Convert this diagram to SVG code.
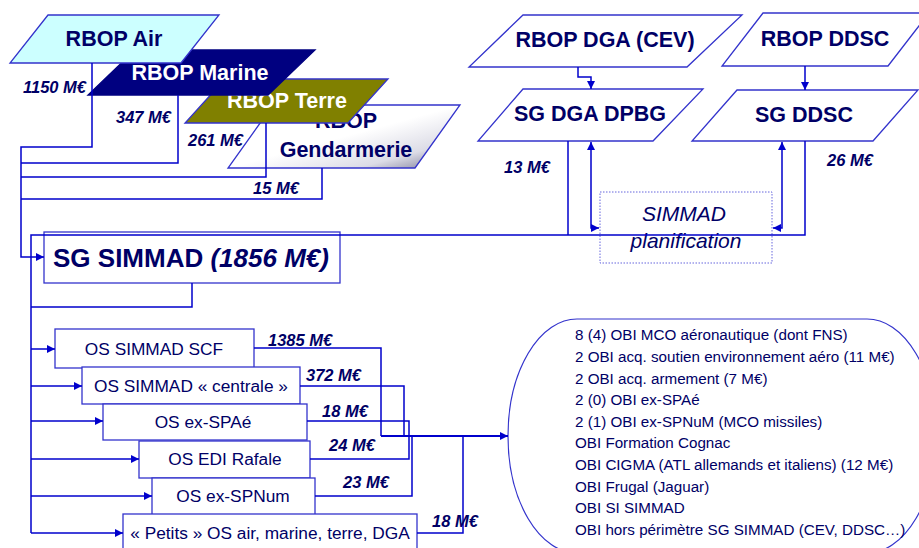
<svg xmlns="http://www.w3.org/2000/svg" width="919" height="548" viewBox="0 0 919 548">
<defs>
<linearGradient id="gGend" x1="0" y1="0" x2="1" y2="1">
<stop offset="0" stop-color="#ffffff"/>
<stop offset="0.5" stop-color="#ffffff"/>
<stop offset="0.78" stop-color="#dcdce6"/>
<stop offset="1" stop-color="#6e6e8c"/>
</linearGradient>
<marker id="ah" viewBox="0 0 10 10" refX="10" refY="5" markerWidth="8" markerHeight="8" markerUnits="userSpaceOnUse" orient="auto-start-reverse">
<path d="M0,0 L10,5 L0,10 z" fill="#0000cc"/>
</marker>
</defs>
<style>
.box{stroke:#3333cc;stroke-width:1.3;fill:#ffffff}
.t{font-family:"Liberation Sans",Arial,sans-serif;fill:#000066}
.tb{font-family:"Liberation Sans",Arial,sans-serif;font-weight:bold;font-size:21.5px;fill:#000066;text-anchor:middle}
.tw{fill:#ffffff}
.os{font-family:"Liberation Sans",Arial,sans-serif;font-size:17.3px;fill:#000066;text-anchor:middle}
.lab{font-family:"Liberation Sans",Arial,sans-serif;font-weight:bold;font-style:italic;font-size:16.5px;fill:#000066}
.obi{font-family:"Liberation Sans",Arial,sans-serif;font-size:15.2px;fill:#000066}
.c{fill:none;stroke:#0000cc;stroke-width:1.5}
.ca{fill:none;stroke:#0000cc;stroke-width:1.5;marker-end:url(#ah)}
.cb{fill:none;stroke:#0000cc;stroke-width:1.5;marker-start:url(#ah);marker-end:url(#ah)}
</style>
<rect width="919" height="548" fill="#ffffff"/>

<g id="rbop-gendarmerie">
<polygon class="box" points="273,105 460,105 415,168 228,168" style="fill:url(#gGend)"/>
<text class="tb" x="346" y="128">RBOP</text>
<text class="tb" x="346" y="157">Gendarmerie</text>
</g>
<g id="rbop-terre">
<polygon class="box" points="225,79 388,79 348,123 185,123" style="fill:#808000"/>
<text class="tb tw" x="287" y="108">RBOP Terre</text>
</g>
<g id="rbop-marine">
<polygon class="box" points="135,50 315,50 268,95 88,95" style="fill:#000080;stroke:#000080"/>
<text class="tb tw" x="200" y="80">RBOP Marine</text>
</g>
<g id="rbop-air">
<polygon class="box" points="48,15 219,15 181,63 10,63" style="fill:#ccffff"/>
<text class="tb" x="114" y="46">RBOP Air</text>
</g>

<g id="rbop-dga">
<polygon class="box" points="523,15 742,15 687,67 469,67"/>
<text class="tb" x="605" y="47">RBOP DGA (CEV)</text>
</g>
<g id="rbop-ddsc">
<polygon class="box" points="763,13 929,13 888,66 722,66"/>
<text class="tb" x="825" y="46">RBOP DDSC</text>
</g>
<g id="sg-dga-dpbg">
<polygon class="box" points="523,89 703,89 653,141 478,141"/>
<text class="tb" x="590" y="121">SG DGA DPBG</text>
</g>
<g id="sg-ddsc">
<polygon class="box" points="737,90 918,90 873,141 692,141"/>
<text class="tb" x="804" y="122">SG DDSC</text>
</g>

<g id="simmad-planification">
<rect x="600" y="192" width="172" height="71" fill="none" stroke="#6666dd" stroke-width="1" stroke-dasharray="1.5,1.5"/>
<text class="t" x="684" y="221" font-size="21px" font-style="italic" text-anchor="middle">SIMMAD</text>
<text class="t" x="686" y="248" font-size="21px" font-style="italic" text-anchor="middle">planification</text>
</g>

<g id="sg-simmad">
<rect class="box" x="44" y="232" width="296" height="51"/>
<text class="t" x="53" y="267" font-size="26px" font-weight="bold">SG SIMMAD <tspan font-style="italic">(1856 M€)</tspan></text>
</g>

<g id="os-scf">
<rect class="box" x="55" y="329" width="199" height="39"/>
<text class="os" x="154" y="355">OS SIMMAD SCF</text>
</g>
<g id="os-centrale">
<rect class="box" x="82" y="367" width="218" height="37"/>
<text class="os" x="191" y="392">OS SIMMAD « centrale »</text>
</g>
<g id="os-spae">
<rect class="box" x="103" y="404" width="204" height="36"/>
<text class="os" x="203" y="428">OS ex-SPAé</text>
</g>
<g id="os-rafale">
<rect class="box" x="139" y="441" width="171" height="37"/>
<text class="os" x="225" y="465">OS EDI Rafale</text>
</g>
<g id="os-spnum">
<rect class="box" x="152" y="478" width="163" height="37"/>
<text class="os" x="233" y="502">OS ex-SPNum</text>
</g>
<g id="os-petits">
<rect class="box" x="123" y="514" width="294" height="40"/>
<text class="os" x="270" y="539">« Petits » OS air, marine, terre, DGA</text>
</g>

<g id="obi-list">
<rect x="508" y="319" width="428" height="234" rx="69" ry="117" fill="none" stroke="#3333cc" stroke-width="1.2"/>
<text class="obi" x="575" y="340">8 (4) OBI MCO aéronautique (dont FNS)</text>
<text class="obi" x="575" y="362">2 OBI acq. soutien environnement aéro (11 M€)</text>
<text class="obi" x="575" y="384">2 OBI acq. armement (7 M€)</text>
<text class="obi" x="575" y="405">2 (0) OBI ex-SPAé</text>
<text class="obi" x="575" y="427">2 (1) OBI ex-SPNuM (MCO missiles)</text>
<text class="obi" x="575" y="448">OBI Formation Cognac</text>
<text class="obi" x="575" y="470">OBI CIGMA (ATL allemands et italiens) (12 M€)</text>
<text class="obi" x="575" y="492">OBI Frugal (Jaguar)</text>
<text class="obi" x="575" y="513">OBI SI SIMMAD</text>
<text class="obi" x="575" y="535">OBI hors périmètre SG SIMMAD (CEV, DDSC…)</text>
</g>

<g id="connectors">
<path class="ca" d="M92,63 V147 H21 V257 H44"/>
<path class="c" d="M178,95 V163 H21"/>
<path class="c" d="M266,123 V177 H21"/>
<path class="c" d="M322,168 V199 H21"/>
<path class="c" d="M805,141 V235 H31 V533"/>
<path class="c" d="M568,141 V235"/>
<path class="c" d="M192,283 V307 H31"/>
<path class="ca" d="M31,349 H55"/>
<path class="ca" d="M31,386 H82"/>
<path class="ca" d="M31,421 H103"/>
<path class="ca" d="M31,459 H139"/>
<path class="ca" d="M31,496 H152"/>
<path class="ca" d="M31,533 H123"/>
<path class="ca" d="M578,67 V77 H591 V89"/>
<path class="ca" d="M805,66 V90"/>
<path class="cb" d="M591,142 V228 H599"/>
<path class="cb" d="M782,142 V228 H773"/>
<path class="c" d="M254,348 H381 V436"/>
<path class="c" d="M300,386 H404 V436"/>
<path class="c" d="M307,421 H409 V459 H310"/>
<path class="c" d="M315,496 H412 V436"/>
<path class="c" d="M417,533 H463 V436"/>
<path class="ca" d="M381,436 H508" style="stroke-width:2.2"/>
</g>

<g id="labels">
<text class="lab" x="23" y="93">1150 M€</text>
<text class="lab" x="116" y="123">347 M€</text>
<text class="lab" x="188" y="146">261 M€</text>
<text class="lab" x="253" y="194">15 M€</text>
<text class="lab" x="504" y="173">13 M€</text>
<text class="lab" x="827" y="166">26 M€</text>
<text class="lab" x="268" y="346">1385 M€</text>
<text class="lab" x="306" y="381">372 M€</text>
<text class="lab" x="322" y="417">18 M€</text>
<text class="lab" x="329" y="451">24 M€</text>
<text class="lab" x="343" y="488">23 M€</text>
<text class="lab" x="432" y="527">18 M€</text>
</g>
</svg>
